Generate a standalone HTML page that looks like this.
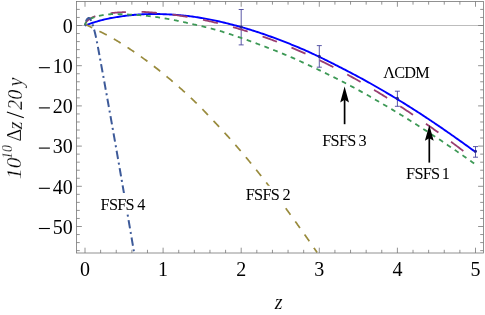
<!DOCTYPE html>
<html><head><meta charset="utf-8"><title>plot</title>
<style>html,body{margin:0;padding:0;background:#fff;}body{width:485px;height:315px;overflow:hidden;position:relative;font-family:"Liberation Serif",serif;}</style></head>
<body>
<svg width="485" height="315" viewBox="0 0 485 315" style="position:absolute;left:0;top:0">
<rect width="485" height="315" fill="#fff"/>
<defs><clipPath id="c"><rect x="76.55" y="1.45" width="406.84999999999997" height="251.55"/></clipPath></defs>
<line x1="76.55" y1="25.5" x2="483.4" y2="25.5" stroke="#bdbdbd" stroke-width="1"/>
<line x1="241.20" y1="9.5" x2="241.20" y2="44.9" stroke="#3f3d99" stroke-opacity="0.85" stroke-width="1.0"/>
<line x1="238.70" y1="9.5" x2="243.70" y2="9.5" stroke="#3f3d99" stroke-opacity="0.85" stroke-width="1"/>
<line x1="238.70" y1="44.9" x2="243.70" y2="44.9" stroke="#3f3d99" stroke-opacity="0.85" stroke-width="1"/>
<line x1="319.30" y1="45.6" x2="319.30" y2="67.2" stroke="#3f3d99" stroke-opacity="0.85" stroke-width="1.0"/>
<line x1="316.80" y1="45.6" x2="321.80" y2="45.6" stroke="#3f3d99" stroke-opacity="0.85" stroke-width="1"/>
<line x1="316.80" y1="67.2" x2="321.80" y2="67.2" stroke="#3f3d99" stroke-opacity="0.85" stroke-width="1"/>
<line x1="397.40" y1="91.2" x2="397.40" y2="106.3" stroke="#3f3d99" stroke-opacity="0.85" stroke-width="1.0"/>
<line x1="394.90" y1="91.2" x2="399.90" y2="91.2" stroke="#3f3d99" stroke-opacity="0.85" stroke-width="1"/>
<line x1="394.90" y1="106.3" x2="399.90" y2="106.3" stroke="#3f3d99" stroke-opacity="0.85" stroke-width="1"/>
<line x1="475.50" y1="146.6" x2="475.50" y2="157.2" stroke="#3f3d99" stroke-opacity="0.85" stroke-width="1.0"/>
<line x1="473.00" y1="146.6" x2="478.00" y2="146.6" stroke="#3f3d99" stroke-opacity="0.85" stroke-width="1"/>
<line x1="473.00" y1="157.2" x2="478.00" y2="157.2" stroke="#3f3d99" stroke-opacity="0.85" stroke-width="1"/>
<g clip-path="url(#c)" fill="none" stroke-linecap="butt" stroke-linejoin="round">
<path d="M85.00,25.50 L86.31,25.02 L87.61,24.54 L88.92,24.08 L90.22,23.63 L91.53,23.19 L92.84,22.76 L94.14,22.35 L95.45,21.94 L96.75,21.54 L98.06,21.16 L99.37,20.78 L100.67,20.42 L101.98,20.07 L103.28,19.74 L104.59,19.42 L105.90,19.12 L107.20,18.83 L108.51,18.56 L109.81,18.30 L111.12,18.05 L112.43,17.81 L113.73,17.58 L115.04,17.36 L116.34,17.14 L117.65,16.94 L118.96,16.74 L120.26,16.54 L121.57,16.36 L122.87,16.17 L124.18,15.99 L125.49,15.81 L126.79,15.64 L128.10,15.48 L129.40,15.33 L130.71,15.19 L132.02,15.06 L133.32,14.93 L134.63,14.81 L135.93,14.70 L137.24,14.60 L138.55,14.51 L139.85,14.42 L141.16,14.35 L142.46,14.28 L143.77,14.22 L145.08,14.16 L146.38,14.12 L147.69,14.08 L148.99,14.05 L150.30,14.03 L151.61,14.01 L152.91,14.00 L154.22,14.00 L155.53,14.01 L156.83,14.02 L158.14,14.04 L159.44,14.06 L160.75,14.10 L162.06,14.14 L163.36,14.18 L164.67,14.23 L165.97,14.28 L167.28,14.34 L168.59,14.41 L169.89,14.48 L171.20,14.55 L172.50,14.63 L173.81,14.72 L175.12,14.81 L176.42,14.91 L177.73,15.01 L179.03,15.12 L180.34,15.23 L181.65,15.35 L182.95,15.48 L184.26,15.61 L185.56,15.75 L186.87,15.89 L188.18,16.05 L189.48,16.20 L190.79,16.37 L192.09,16.54 L193.40,16.72 L194.71,16.91 L196.01,17.10 L197.32,17.30 L198.62,17.50 L199.93,17.72 L201.24,17.94 L202.54,18.16 L203.85,18.39 L205.15,18.63 L206.46,18.87 L207.77,19.11 L209.07,19.36 L210.38,19.62 L211.68,19.88 L212.99,20.15 L214.30,20.42 L215.60,20.69 L216.91,20.97 L218.21,21.26 L219.52,21.55 L220.83,21.85 L222.13,22.15 L223.44,22.45 L224.74,22.76 L226.05,23.08 L227.36,23.40 L228.66,23.72 L229.97,24.05 L231.27,24.38 L232.58,24.72 L233.89,25.06 L235.19,25.41 L236.50,25.76 L237.80,26.11 L239.11,26.48 L240.42,26.84 L241.72,27.21 L243.03,27.58 L244.33,27.96 L245.64,28.35 L246.95,28.74 L248.25,29.13 L249.56,29.53 L250.86,29.93 L252.17,30.34 L253.48,30.75 L254.78,31.17 L256.09,31.59 L257.39,32.02 L258.70,32.45 L260.01,32.88 L261.31,33.32 L262.62,33.76 L263.92,34.21 L265.23,34.66 L266.54,35.12 L267.84,35.58 L269.15,36.05 L270.45,36.51 L271.76,36.99 L273.07,37.46 L274.37,37.94 L275.68,38.43 L276.98,38.92 L278.29,39.41 L279.60,39.90 L280.90,40.40 L282.21,40.90 L283.52,41.41 L284.82,41.92 L286.13,42.43 L287.43,42.95 L288.74,43.47 L290.05,43.99 L291.35,44.52 L292.66,45.05 L293.96,45.58 L295.27,46.12 L296.58,46.66 L297.88,47.21 L299.19,47.75 L300.49,48.30 L301.80,48.86 L303.11,49.42 L304.41,49.99 L305.72,50.56 L307.02,51.14 L308.33,51.73 L309.64,52.32 L310.94,52.92 L312.25,53.52 L313.55,54.12 L314.86,54.74 L316.17,55.35 L317.47,55.98 L318.78,56.60 L320.08,57.23 L321.39,57.87 L322.70,58.51 L324.00,59.15 L325.31,59.79 L326.61,60.44 L327.92,61.09 L329.23,61.74 L330.53,62.40 L331.84,63.06 L333.14,63.71 L334.45,64.38 L335.76,65.04 L337.06,65.70 L338.37,66.37 L339.67,67.03 L340.98,67.70 L342.29,68.37 L343.59,69.04 L344.90,69.71 L346.20,70.38 L347.51,71.06 L348.82,71.73 L350.12,72.42 L351.43,73.10 L352.73,73.79 L354.04,74.48 L355.35,75.18 L356.65,75.87 L357.96,76.58 L359.26,77.28 L360.57,77.99 L361.88,78.70 L363.18,79.41 L364.49,80.13 L365.79,80.85 L367.10,81.58 L368.41,82.30 L369.71,83.03 L371.02,83.77 L372.32,84.50 L373.63,85.24 L374.94,85.99 L376.24,86.73 L377.55,87.48 L378.85,88.23 L380.16,88.99 L381.47,89.75 L382.77,90.51 L384.08,91.27 L385.38,92.04 L386.69,92.81 L388.00,93.59 L389.30,94.37 L390.61,95.15 L391.91,95.93 L393.22,96.72 L394.53,97.50 L395.83,98.30 L397.14,99.09 L398.44,99.89 L399.75,100.69 L401.06,101.50 L402.36,102.30 L403.67,103.12 L404.97,103.93 L406.28,104.75 L407.59,105.57 L408.89,106.39 L410.20,107.21 L411.51,108.04 L412.81,108.87 L414.12,109.71 L415.42,110.54 L416.73,111.39 L418.04,112.23 L419.34,113.07 L420.65,113.92 L421.95,114.78 L423.26,115.63 L424.57,116.49 L425.87,117.35 L427.18,118.21 L428.48,119.08 L429.79,119.95 L431.10,120.82 L432.40,121.70 L433.71,122.57 L435.01,123.46 L436.32,124.34 L437.63,125.23 L438.93,126.12 L440.24,127.01 L441.54,127.90 L442.85,128.80 L444.16,129.70 L445.46,130.61 L446.77,131.51 L448.07,132.42 L449.38,133.33 L450.69,134.25 L451.99,135.17 L453.30,136.08 L454.60,137.00 L455.91,137.93 L457.22,138.85 L458.52,139.77 L459.83,140.70 L461.13,141.63 L462.44,142.56 L463.75,143.50 L465.05,144.44 L466.36,145.38 L467.66,146.32 L468.97,147.27 L470.28,148.22 L471.58,149.17 L472.89,150.13 L474.19,151.10 L475.50,152.06" stroke="#0000ff" stroke-width="1.9"/>
<path d="M85.00,25.20 L85.00,25.10 L85.01,24.99 L85.01,24.88 L85.03,24.77 L85.04,24.67 L85.06,24.56 L85.08,24.45 L85.10,24.34 L85.13,24.22 L85.16,24.11 L85.19,24.00 L85.23,23.89 L85.27,23.77 L85.31,23.66 L85.35,23.54 L85.40,23.43 L85.45,23.31 L85.51,23.20 L85.57,23.08 L85.63,22.97 L85.69,22.85 L85.76,22.73 L85.83,22.62 L85.90,22.50 L85.98,22.38 L86.06,22.26 L86.14,22.15 L86.23,22.03 L86.32,21.91 L86.41,21.79 L86.51,21.67 L86.61,21.56 L86.71,21.44 L86.81,21.32 L86.92,21.20 L87.03,21.09 L87.15,20.97 L87.26,20.85 L87.39,20.73 L87.51,20.62 L87.64,20.50 L87.77,20.38 L87.90,20.27 L88.04,20.15 L88.18,20.04 L88.32,19.92 L88.46,19.81 L88.61,19.69 L88.76,19.58 L88.92,19.46 L89.08,19.35 L89.24,19.24 L89.40,19.12 L89.57,19.01 L89.74,18.90 L89.92,18.79 L90.09,18.68 L90.27,18.57 L90.46,18.46 L90.65,18.35 L90.83,18.24 L91.03,18.13 L91.22,18.03 L91.42,17.92 L91.63,17.81 L91.83,17.71 L92.04,17.60 L92.25,17.50 L92.47,17.39 L92.68,17.29 L92.90,17.19 L93.13,17.09 L93.36,16.98 L93.59,16.88 L93.82,16.78 L94.06,16.69 L94.30,16.59 L94.54,16.49 L94.79,16.39 L95.04,16.30 L95.29,16.20 L95.54,16.11 L95.80,16.02 L96.06,15.93 L96.33,15.84 L96.60,15.75 L96.87,15.67 L97.14,15.59 L97.42,15.51 L97.70,15.43 L97.99,15.35 L98.27,15.28 L98.56,15.20 L98.86,15.13 L99.15,15.06 L99.45,14.99 L99.75,14.92 L100.06,14.86 L100.37,14.80 L100.68,14.73 L101.00,14.67 L101.31,14.61 L101.64,14.55 L101.96,14.50 L102.29,14.44 L102.62,14.38 L102.95,14.33 L103.29,14.27 L103.63,14.22 L103.97,14.17 L104.32,14.11 L104.67,14.06 L105.02,14.01 L105.38,13.95 L105.74,13.90 L106.10,13.85 L106.47,13.79 L106.83,13.74 L107.21,13.68 L107.58,13.63 L107.96,13.57 L108.34,13.51 L108.72,13.45 L109.11,13.40 L109.50,13.35 L109.89,13.29 L110.29,13.24 L110.69,13.19 L111.09,13.14 L111.50,13.09 L111.91,13.04 L112.32,13.00 L112.74,12.95 L113.16,12.91 L113.58,12.86 L114.00,12.82 L114.43,12.78 L114.86,12.74 L115.30,12.70 L115.73,12.66 L116.17,12.63 L116.62,12.59 L117.07,12.56 L117.52,12.52 L117.97,12.49 L118.42,12.46 L118.88,12.43 L119.35,12.40 L119.81,12.37 L120.28,12.35 L120.75,12.32 L121.23,12.30 L121.71,12.28 L122.19,12.25 L122.67,12.23 L123.16,12.21 L123.65,12.20 L124.15,12.18 L124.64,12.16 L125.14,12.15 L125.65,12.14 L126.15,12.12 L126.66,12.11 L127.17,12.10 L127.69,12.08 L128.21,12.07 L128.73,12.05 L129.26,12.03 L129.79,12.01 L130.32,11.99 L130.85,11.98 L131.39,11.96 L131.93,11.94 L132.47,11.92 L133.02,11.90 L133.57,11.88 L134.13,11.86 L134.68,11.84 L135.24,11.83 L135.81,11.82 L136.37,11.80 L136.94,11.80 L137.51,11.79 L138.09,11.79 L138.67,11.79 L139.25,11.79 L139.83,11.80 L140.42,11.81 L141.01,11.83 L141.61,11.85 L142.20,11.87 L142.81,11.90 L143.41,11.93 L144.02,11.96 L144.63,11.99 L145.24,12.02 L145.86,12.06 L146.47,12.09 L147.10,12.13 L147.72,12.17 L148.35,12.21 L148.98,12.25 L149.62,12.29 L150.26,12.34 L150.90,12.38 L151.54,12.43 L152.19,12.48 L152.84,12.53 L153.49,12.58 L154.15,12.63 L154.81,12.69 L155.48,12.74 L156.14,12.80 L156.81,12.86 L157.48,12.92 L158.16,12.99 L158.84,13.05 L159.52,13.12 L160.21,13.18 L160.89,13.25 L161.59,13.32 L162.28,13.40 L162.98,13.47 L163.68,13.55 L164.38,13.62 L165.09,13.70 L165.80,13.79 L166.51,13.87 L167.23,13.95 L167.95,14.04 L168.67,14.13 L169.40,14.22 L170.13,14.31 L170.86,14.40 L171.60,14.50 L172.34,14.59 L173.08,14.69 L173.82,14.79 L174.57,14.90 L175.32,15.00 L176.07,15.11 L176.83,15.22 L177.59,15.33 L178.36,15.44 L179.12,15.55 L179.89,15.67 L180.67,15.79 L181.44,15.91 L182.22,16.03 L183.00,16.15 L183.79,16.28 L184.58,16.41 L185.37,16.54 L186.17,16.67 L186.96,16.81 L187.76,16.94 L188.57,17.08 L189.38,17.22 L190.19,17.36 L191.00,17.51 L191.82,17.66 L192.64,17.81 L193.46,17.96 L194.29,18.11 L195.12,18.27 L195.95,18.43 L196.79,18.59 L197.62,18.75 L198.47,18.92 L199.31,19.09 L200.16,19.26 L201.01,19.43 L201.87,19.60 L202.72,19.78 L203.58,19.96 L204.45,20.14 L205.32,20.33 L206.19,20.51 L207.06,20.70 L207.94,20.90 L208.82,21.09 L209.70,21.29 L210.58,21.49 L211.47,21.69 L212.37,21.90 L213.26,22.10 L214.16,22.31 L215.06,22.53 L215.97,22.74 L216.87,22.96 L217.79,23.18 L218.70,23.41 L219.62,23.63 L220.54,23.86 L221.46,24.09 L222.39,24.33 L223.32,24.57 L224.25,24.81 L225.19,25.05 L226.13,25.30 L227.07,25.55 L228.01,25.80 L228.96,26.05 L229.91,26.31 L230.87,26.57 L231.83,26.84 L232.79,27.11 L233.75,27.38 L234.72,27.65 L235.69,27.93 L236.66,28.21 L237.64,28.49 L238.62,28.78 L239.61,29.07 L240.59,29.36 L241.58,29.66 L242.57,29.95 L243.57,30.26 L244.57,30.56 L245.57,30.87 L246.58,31.18 L247.58,31.50 L248.59,31.82 L249.61,32.14 L250.63,32.47 L251.65,32.80 L252.67,33.13 L253.70,33.47 L254.73,33.81 L255.76,34.15 L256.80,34.50 L257.84,34.85 L258.88,35.21 L259.93,35.56 L260.98,35.93 L262.03,36.29 L263.08,36.66 L264.14,37.03 L265.20,37.41 L266.27,37.79 L267.34,38.18 L268.41,38.57 L269.48,38.96 L270.56,39.35 L271.64,39.75 L272.72,40.16 L273.81,40.57 L274.90,40.98 L275.99,41.39 L277.09,41.81 L278.19,42.24 L279.29,42.67 L280.40,43.10 L281.50,43.53 L282.62,43.97 L283.73,44.42 L284.85,44.87 L285.97,45.32 L287.09,45.78 L288.22,46.24 L289.35,46.71 L290.49,47.18 L291.62,47.65 L292.76,48.13 L293.91,48.61 L295.05,49.10 L296.20,49.59 L297.35,50.09 L298.51,50.59 L299.67,51.09 L300.83,51.60 L302.00,52.12 L303.16,52.64 L304.33,53.16 L305.51,53.69 L306.69,54.22 L307.87,54.76 L309.05,55.30 L310.24,55.85 L311.43,56.40 L312.62,56.95 L313.82,57.51 L315.02,58.08 L316.22,58.65 L317.43,59.23 L318.64,59.81 L319.85,60.39 L321.06,60.98 L322.28,61.57 L323.50,62.17 L324.73,62.78 L325.96,63.39 L327.19,64.00 L328.42,64.62 L329.66,65.25 L330.90,65.88 L332.14,66.51 L333.39,67.15 L334.64,67.80 L335.89,68.45 L337.15,69.10 L338.41,69.76 L339.67,70.43 L340.93,71.10 L342.20,71.77 L343.47,72.45 L344.75,73.14 L346.03,73.83 L347.31,74.53 L348.59,75.23 L349.88,75.94 L351.17,76.65 L352.46,77.37 L353.76,78.09 L355.06,78.82 L356.36,79.55 L357.67,80.29 L358.98,81.04 L360.29,81.79 L361.61,82.54 L362.93,83.31 L364.25,84.07 L365.57,84.85 L366.90,85.62 L368.23,86.41 L369.57,87.20 L370.90,87.99 L372.24,88.79 L373.59,89.60 L374.94,90.41 L376.29,91.22 L377.64,92.05 L379.00,92.88 L380.35,93.71 L381.72,94.55 L383.08,95.39 L384.45,96.25 L385.82,97.10 L387.20,97.96 L388.58,98.83 L389.96,99.71 L391.34,100.58 L392.73,101.47 L394.12,102.36 L395.52,103.26 L396.91,104.16 L398.31,105.07 L399.72,105.98 L401.12,106.90 L402.53,107.83 L403.95,108.76 L405.36,109.70 L406.78,110.64 L408.20,111.59 L409.63,112.54 L411.06,113.50 L412.49,114.47 L413.92,115.44 L415.36,116.42 L416.80,117.40 L418.25,118.39 L419.69,119.39 L421.14,120.39 L422.60,121.39 L424.06,122.41 L425.51,123.42 L426.98,124.45 L428.44,125.48 L429.91,126.51 L431.39,127.56 L432.86,128.60 L434.34,129.66 L435.82,130.72 L437.31,131.78 L438.79,132.85 L440.29,133.93 L441.78,135.01 L443.28,136.10 L444.78,137.19 L446.28,138.29 L447.79,139.40 L449.30,140.51 L450.81,141.62 L452.33,142.75 L453.85,143.88 L455.37,145.01 L456.90,146.15 L458.43,147.29 L459.96,148.44 L461.49,149.60 L463.03,150.76 L464.57,151.93 L466.12,153.10 L467.66,154.28 L469.22,155.47 L470.77,156.66 L472.33,157.85 L473.89,159.05 L475.45,160.26" stroke="#993d71" stroke-width="1.8" stroke-dasharray="15.3 15.67" stroke-dashoffset="0.9"/>
<path d="M85.32,24.29 L86.07,24.65 L86.82,25.02 L87.57,25.39 L88.31,25.76 L89.06,26.14 L89.80,26.51 L90.55,26.89 L91.29,27.26 L92.03,27.64 L92.77,28.02 L93.50,28.39 L94.24,28.77 L94.98,29.13 L95.71,29.50 L96.45,29.86 L97.18,30.22 L97.91,30.58 L98.64,30.94 L99.37,31.29 L100.10,31.65 L100.83,32.00 L101.56,32.35 L102.28,32.71 L103.01,33.06 L103.73,33.42 L104.45,33.78 L105.17,34.14 L105.89,34.51 L106.61,34.87 L107.33,35.25 L108.05,35.62 L108.77,36.00 L109.48,36.39 L110.20,36.78 L110.91,37.18 L111.62,37.58 L112.33,37.99 L113.04,38.40 L113.75,38.82 L114.46,39.25 L115.17,39.67 L115.87,40.10 L116.58,40.53 L117.28,40.96 L117.98,41.40 L118.69,41.83 L119.39,42.27 L120.09,42.70 L120.79,43.14 L121.48,43.58 L122.18,44.02 L122.88,44.46 L123.57,44.91 L124.27,45.35 L124.96,45.80 L125.65,46.25 L126.34,46.70 L127.03,47.15 L127.72,47.60 L128.41,48.05 L129.10,48.51 L129.78,48.96 L130.47,49.42 L131.15,49.88 L131.83,50.34 L132.52,50.80 L133.20,51.26 L133.88,51.73 L134.56,52.19 L135.23,52.66 L135.91,53.13 L136.59,53.60 L137.26,54.07 L137.94,54.54 L138.61,55.01 L139.28,55.49 L139.96,55.96 L140.63,56.44 L141.30,56.92 L141.97,57.40 L142.63,57.88 L143.30,58.36 L143.97,58.84 L144.63,59.33 L145.29,59.81 L145.96,60.30 L146.62,60.79 L147.28,61.28 L147.94,61.77 L148.60,62.26 L149.26,62.75 L149.92,63.25 L150.57,63.74 L151.23,64.24 L151.88,64.74 L152.54,65.24 L153.19,65.74 L153.84,66.24 L154.49,66.74 L155.14,67.25 L155.79,67.75 L156.44,68.26 L157.09,68.76 L157.74,69.27 L158.38,69.78 L159.03,70.29 L159.67,70.81 L160.31,71.32 L160.96,71.83 L161.60,72.35 L162.24,72.86 L162.88,73.38 L163.52,73.90 L164.15,74.42 L164.79,74.94 L165.43,75.46 L166.06,75.99 L166.70,76.51 L167.33,77.04 L167.96,77.56 L168.59,78.09 L169.22,78.62 L169.85,79.15 L170.48,79.68 L171.11,80.21 L171.74,80.75 L172.36,81.28 L172.99,81.82 L173.62,82.35 L174.24,82.89 L174.86,83.43 L175.48,83.97 L176.11,84.51 L176.73,85.05 L177.35,85.59 L177.96,86.14 L178.58,86.68 L179.20,87.23 L179.82,87.77 L180.43,88.32 L181.05,88.87 L181.66,89.42 L182.27,89.97 L182.88,90.52 L183.50,91.08 L184.11,91.63 L184.72,92.18 L185.32,92.74 L185.93,93.30 L186.54,93.85 L187.15,94.41 L187.75,94.97 L188.36,95.53 L188.96,96.10 L189.56,96.66 L190.17,97.22 L190.77,97.79 L191.37,98.35 L191.97,98.92 L192.57,99.48 L193.17,100.05 L193.76,100.62 L194.36,101.19 L194.96,101.76 L195.55,102.33 L196.15,102.91 L196.74,103.49 L197.33,104.07 L197.92,104.66 L198.52,105.24 L199.11,105.83 L199.70,106.43 L200.28,107.02 L200.87,107.62 L201.46,108.22 L202.05,108.82 L202.63,109.42 L203.22,110.03 L203.80,110.64 L204.39,111.24 L204.97,111.85 L205.55,112.46 L206.13,113.07 L206.71,113.68 L207.29,114.29 L207.87,114.90 L208.45,115.51 L209.03,116.12 L209.60,116.73 L210.18,117.34 L210.76,117.95 L211.33,118.56 L211.90,119.17 L212.48,119.77 L213.05,120.38 L213.62,120.98 L214.19,121.58 L214.76,122.19 L215.33,122.79 L215.90,123.39 L216.47,123.99 L217.04,124.59 L217.60,125.19 L218.17,125.80 L218.73,126.40 L219.30,127.01 L219.86,127.61 L220.43,128.22 L220.99,128.83 L221.55,129.44 L222.11,130.05 L222.67,130.66 L223.23,131.27 L223.79,131.88 L224.35,132.49 L224.91,133.10 L225.46,133.72 L226.02,134.33 L226.57,134.94 L227.13,135.56 L227.68,136.18 L228.24,136.79 L228.79,137.41 L229.34,138.03 L229.89,138.65 L230.44,139.27 L230.99,139.89 L231.54,140.51 L232.09,141.13 L232.64,141.75 L233.19,142.37 L233.73,143.00 L234.28,143.62 L234.82,144.24 L235.37,144.87 L235.91,145.50 L236.46,146.12 L237.00,146.75 L237.54,147.38 L238.08,148.00 L238.62,148.63 L239.16,149.26 L239.70,149.89 L240.24,150.52 L240.78,151.15 L241.32,151.78 L241.85,152.42 L242.39,153.05 L242.93,153.68 L243.46,154.32 L243.99,154.95 L244.53,155.59 L245.06,156.22 L245.59,156.86 L246.13,157.49 L246.66,158.13 L247.19,158.77 L247.72,159.41 L248.25,160.05 L248.78,160.68 L249.30,161.32 L249.83,161.96 L250.36,162.60 L250.89,163.25 L251.41,163.89 L251.94,164.53 L252.46,165.17 L252.99,165.82 L253.51,166.46 L254.03,167.10 L254.55,167.75 L255.08,168.39 L255.60,169.04 L256.12,169.68 L256.64,170.33 L257.16,170.98 L257.68,171.62 L258.19,172.27 L258.71,172.92 L259.23,173.57 L259.74,174.22 L260.26,174.87 L260.78,175.52 L261.29,176.17 L261.80,176.82 L262.32,177.47 L262.83,178.12 L263.34,178.77 L263.86,179.42 L264.37,180.08 L264.88,180.73 L265.39,181.38 L265.90,182.04 L266.41,182.69 L266.92,183.34 L267.42,184.00 L267.93,184.65 L268.44,185.31 L268.94,185.97 L269.45,186.62 L269.96,187.28 L270.46,187.93 L270.96,188.59 L271.47,189.25 L271.97,189.91 L272.47,190.57 L272.98,191.22 L273.48,191.88 L273.98,192.54 L274.48,193.20 L274.98,193.86 L275.48,194.52 L275.98,195.18 L276.48,195.84 L276.98,196.50 L277.47,197.16 L277.97,197.83 L278.47,198.49 L278.96,199.15 L279.46,199.81 L279.95,200.47 L280.45,201.14 L280.94,201.80 L281.44,202.46 L281.93,203.13 L282.42,203.79 L282.91,204.45 L283.40,205.12 L283.90,205.78 L284.39,206.45 L284.88,207.11 L285.37,207.78 L285.86,208.44 L286.34,209.11 L286.83,209.77 L287.32,210.44 L287.81,211.10 L288.29,211.77 L288.78,212.44 L289.27,213.10 L289.75,213.77 L290.24,214.44 L290.72,215.10 L291.21,215.77 L291.69,216.44 L292.17,217.11 L292.66,217.77 L293.14,218.44 L293.62,219.11 L294.10,219.78 L294.58,220.44 L295.06,221.11 L295.54,221.78 L296.02,222.45 L296.50,223.12 L296.98,223.79 L297.46,224.46 L297.94,225.13 L298.41,225.79 L298.89,226.46 L299.37,227.13 L299.84,227.80 L300.32,228.47 L300.80,229.14 L301.27,229.81 L301.75,230.48 L302.22,231.15 L302.69,231.82 L303.17,232.49 L303.64,233.16 L304.11,233.83 L304.58,234.50 L305.06,235.17 L305.53,235.84 L306.00,236.51 L306.47,237.18 L306.94,237.85 L307.41,238.52 L307.88,239.19 L308.35,239.86 L308.82,240.53 L309.28,241.20 L309.75,241.87 L310.22,242.54 L310.69,243.21 L311.15,243.88 L311.62,244.55 L312.08,245.22 L312.55,245.89 L313.02,246.56 L313.48,247.23 L313.94,247.90 L314.41,248.57 L314.87,249.24 L315.34,249.91 L315.80,250.58 L316.26,251.25 L316.72,251.92 L317.19,252.59" stroke="#998b3d" stroke-width="1.7" stroke-dasharray="8.1 8.1" stroke-dashoffset="0.4"/>
<path d="M85.00,25.20 L85.00,25.09 L85.01,24.97 L85.01,24.86 L85.03,24.75 L85.04,24.64 L85.06,24.52 L85.08,24.41 L85.10,24.30 L85.13,24.19 L85.16,24.07 L85.19,23.96 L85.23,23.85 L85.27,23.73 L85.31,23.62 L85.35,23.51 L85.40,23.40 L85.45,23.29 L85.51,23.17 L85.57,23.06 L85.63,22.95 L85.69,22.84 L85.76,22.73 L85.83,22.62 L85.90,22.51 L85.98,22.40 L86.06,22.29 L86.14,22.18 L86.23,22.07 L86.32,21.96 L86.41,21.85 L86.51,21.74 L86.61,21.63 L86.71,21.52 L86.81,21.41 L86.92,21.31 L87.03,21.20 L87.15,21.09 L87.26,20.99 L87.39,20.88 L87.51,20.77 L87.64,20.67 L87.77,20.56 L87.90,20.46 L88.04,20.36 L88.18,20.25 L88.32,20.15 L88.46,20.05 L88.61,19.94 L88.76,19.84 L88.92,19.74 L89.08,19.64 L89.24,19.54 L89.40,19.44 L89.57,19.34 L89.74,19.24 L89.92,19.14 L90.09,19.05 L90.27,18.95 L90.46,18.85 L90.65,18.76 L90.83,18.66 L91.03,18.57 L91.22,18.47 L91.42,18.38 L91.63,18.29 L91.83,18.20 L92.04,18.10 L92.25,18.01 L92.47,17.92 L92.68,17.83 L92.90,17.75 L93.13,17.66 L93.36,17.57 L93.59,17.48 L93.82,17.40 L94.06,17.31 L94.30,17.23 L94.54,17.15 L94.79,17.06 L95.04,16.98 L95.29,16.90 L95.54,16.82 L95.80,16.74 L96.06,16.66 L96.33,16.58 L96.60,16.50 L96.87,16.43 L97.14,16.35 L97.42,16.28 L97.70,16.20 L97.99,16.13 L98.27,16.06 L98.56,15.99 L98.86,15.92 L99.15,15.85 L99.45,15.78 L99.75,15.71 L100.06,15.64 L100.37,15.58 L100.68,15.51 L101.00,15.45 L101.31,15.39 L101.64,15.32 L101.96,15.26 L102.29,15.20 L102.62,15.14 L102.95,15.09 L103.29,15.03 L103.63,14.97 L103.97,14.92 L104.32,14.86 L104.67,14.81 L105.02,14.76 L105.38,14.71 L105.74,14.66 L106.10,14.61 L106.47,14.57 L106.83,14.53 L107.21,14.49 L107.58,14.45 L107.96,14.41 L108.34,14.38 L108.72,14.35 L109.11,14.32 L109.50,14.29 L109.89,14.27 L110.29,14.25 L110.69,14.23 L111.09,14.21 L111.50,14.19 L111.91,14.18 L112.32,14.16 L112.74,14.15 L113.16,14.15 L113.58,14.14 L114.00,14.14 L114.43,14.13 L114.86,14.13 L115.30,14.14 L115.73,14.14 L116.17,14.14 L116.62,14.15 L117.07,14.16 L117.52,14.17 L117.97,14.18 L118.42,14.19 L118.88,14.20 L119.35,14.21 L119.81,14.23 L120.28,14.24 L120.75,14.26 L121.23,14.27 L121.71,14.29 L122.19,14.31 L122.67,14.33 L123.16,14.34 L123.65,14.36 L124.15,14.38 L124.64,14.40 L125.14,14.41 L125.65,14.43 L126.15,14.45 L126.66,14.46 L127.17,14.48 L127.69,14.50 L128.21,14.51 L128.73,14.53 L129.26,14.55 L129.79,14.57 L130.32,14.59 L130.85,14.61 L131.39,14.63 L131.93,14.66 L132.47,14.69 L133.02,14.71 L133.57,14.74 L134.13,14.78 L134.68,14.81 L135.24,14.84 L135.81,14.88 L136.37,14.92 L136.94,14.96 L137.51,15.00 L138.09,15.04 L138.67,15.09 L139.25,15.13 L139.83,15.18 L140.42,15.23 L141.01,15.28 L141.61,15.34 L142.20,15.39 L142.81,15.45 L143.41,15.51 L144.02,15.57 L144.63,15.63 L145.24,15.69 L145.86,15.75 L146.47,15.82 L147.10,15.89 L147.72,15.96 L148.35,16.03 L148.98,16.11 L149.62,16.18 L150.26,16.26 L150.90,16.34 L151.54,16.42 L152.19,16.50 L152.84,16.59 L153.49,16.67 L154.15,16.76 L154.81,16.85 L155.48,16.94 L156.14,17.04 L156.81,17.13 L157.48,17.23 L158.16,17.33 L158.84,17.43 L159.52,17.54 L160.21,17.64 L160.89,17.75 L161.59,17.86 L162.28,17.97 L162.98,18.09 L163.68,18.20 L164.38,18.32 L165.09,18.44 L165.80,18.56 L166.51,18.68 L167.23,18.81 L167.95,18.94 L168.67,19.07 L169.40,19.20 L170.13,19.33 L170.86,19.47 L171.60,19.61 L172.34,19.75 L173.08,19.89 L173.82,20.03 L174.57,20.18 L175.32,20.33 L176.07,20.48 L176.83,20.63 L177.59,20.79 L178.36,20.95 L179.12,21.11 L179.89,21.27 L180.67,21.43 L181.44,21.60 L182.22,21.77 L183.00,21.94 L183.79,22.11 L184.58,22.29 L185.37,22.47 L186.17,22.65 L186.96,22.83 L187.76,23.01 L188.57,23.20 L189.38,23.39 L190.19,23.58 L191.00,23.77 L191.82,23.96 L192.64,24.15 L193.46,24.34 L194.29,24.53 L195.12,24.72 L195.95,24.91 L196.79,25.10 L197.62,25.29 L198.47,25.48 L199.31,25.67 L200.16,25.86 L201.01,26.06 L201.87,26.25 L202.72,26.45 L203.58,26.64 L204.45,26.84 L205.32,27.04 L206.19,27.25 L207.06,27.46 L207.94,27.67 L208.82,27.89 L209.70,28.11 L210.58,28.33 L211.47,28.56 L212.37,28.79 L213.26,29.04 L214.16,29.28 L215.06,29.53 L215.97,29.79 L216.87,30.05 L217.79,30.32 L218.70,30.60 L219.62,30.88 L220.54,31.16 L221.46,31.44 L222.39,31.73 L223.32,32.02 L224.25,32.31 L225.19,32.61 L226.13,32.90 L227.07,33.21 L228.01,33.51 L228.96,33.82 L229.91,34.12 L230.87,34.44 L231.83,34.75 L232.79,35.07 L233.75,35.39 L234.72,35.71 L235.69,36.04 L236.66,36.37 L237.64,36.70 L238.62,37.04 L239.61,37.38 L240.59,37.72 L241.58,38.06 L242.57,38.41 L243.57,38.76 L244.57,39.12 L245.57,39.47 L246.58,39.83 L247.58,40.20 L248.59,40.56 L249.61,40.93 L250.63,41.30 L251.65,41.68 L252.67,42.05 L253.70,42.43 L254.73,42.81 L255.76,43.20 L256.80,43.58 L257.84,43.97 L258.88,44.36 L259.93,44.75 L260.98,45.15 L262.03,45.54 L263.08,45.94 L264.14,46.34 L265.20,46.75 L266.27,47.15 L267.34,47.56 L268.41,47.98 L269.48,48.39 L270.56,48.81 L271.64,49.23 L272.72,49.66 L273.81,50.08 L274.90,50.51 L275.99,50.95 L277.09,51.39 L278.19,51.83 L279.29,52.27 L280.40,52.72 L281.50,53.17 L282.62,53.63 L283.73,54.09 L284.85,54.55 L285.97,55.02 L287.09,55.50 L288.22,55.97 L289.35,56.46 L290.49,56.94 L291.62,57.43 L292.76,57.93 L293.91,58.43 L295.05,58.94 L296.20,59.45 L297.35,59.96 L298.51,60.48 L299.67,61.01 L300.83,61.54 L302.00,62.07 L303.16,62.61 L304.33,63.15 L305.51,63.69 L306.69,64.23 L307.87,64.78 L309.05,65.33 L310.24,65.88 L311.43,66.44 L312.62,67.00 L313.82,67.56 L315.02,68.12 L316.22,68.69 L317.43,69.26 L318.64,69.84 L319.85,70.42 L321.06,71.00 L322.28,71.58 L323.50,72.17 L324.73,72.77 L325.96,73.36 L327.19,73.96 L328.42,74.57 L329.66,75.17 L330.90,75.78 L332.14,76.40 L333.39,77.02 L334.64,77.64 L335.89,78.27 L337.15,78.91 L338.41,79.54 L339.67,80.18 L340.93,80.83 L342.20,81.48 L343.47,82.14 L344.75,82.80 L346.03,83.47 L347.31,84.14 L348.59,84.81 L349.88,85.49 L351.17,86.18 L352.46,86.87 L353.76,87.57 L355.06,88.27 L356.36,88.98 L357.67,89.69 L358.98,90.41 L360.29,91.14 L361.61,91.87 L362.93,92.60 L364.25,93.34 L365.57,94.08 L366.90,94.83 L368.23,95.58 L369.57,96.34 L370.90,97.10 L372.24,97.86 L373.59,98.63 L374.94,99.41 L376.29,100.18 L377.64,100.97 L379.00,101.75 L380.35,102.55 L381.72,103.34 L383.08,104.14 L384.45,104.95 L385.82,105.76 L387.20,106.57 L388.58,107.39 L389.96,108.22 L391.34,109.05 L392.73,109.88 L394.12,110.72 L395.52,111.56 L396.91,112.41 L398.31,113.26 L399.72,114.12 L401.12,114.98 L402.53,115.85 L403.95,116.72 L405.36,117.60 L406.78,118.48 L408.20,119.36 L409.63,120.25 L411.06,121.15 L412.49,122.05 L413.92,122.96 L415.36,123.87 L416.80,124.78 L418.25,125.70 L419.69,126.62 L421.14,127.55 L422.60,128.49 L424.06,129.43 L425.51,130.37 L426.98,131.32 L428.44,132.28 L429.91,133.24 L431.39,134.20 L432.86,135.17 L434.34,136.14 L435.82,137.12 L437.31,138.11 L438.79,139.10 L440.29,140.09 L441.78,141.09 L443.28,142.10 L444.78,143.11 L446.28,144.12 L447.79,145.14 L449.30,146.17 L450.81,147.20 L452.33,148.23 L453.85,149.27 L455.37,150.32 L456.90,151.37 L458.43,152.43 L459.96,153.49 L461.49,154.56 L463.03,155.63 L464.57,156.70 L466.12,157.79 L467.66,158.87 L469.22,159.97 L470.77,161.06 L472.33,162.17 L473.89,163.28 L475.45,164.39" stroke="#3d9956" stroke-width="1.8" stroke-dasharray="4.8 4.64" stroke-dashoffset="1.1"/>
<path d="M85.02,25.31 L85.03,24.75 L85.10,24.12 L85.23,23.44 L85.41,22.73 L85.63,22.02 L85.90,21.30 L86.21,20.62 L86.56,19.97 L86.93,19.39 L87.34,18.88 L87.77,18.47 L88.22,18.18 L88.68,18.02 L89.11,18.01 L89.49,18.15 L89.84,18.44 L90.15,18.83 L90.43,19.31 L90.69,19.85 L90.94,20.41 L91.18,20.99 L91.41,21.57 L91.64,22.15 L91.86,22.73 L92.08,23.31 L92.30,23.90 L92.51,24.48 L92.71,25.07 L92.91,25.66 L93.10,26.25 L93.29,26.84 L93.48,27.44 L93.66,28.03 L93.84,28.63 L94.01,29.23 L94.18,29.82 L94.34,30.43 L94.51,31.03 L94.66,31.63 L94.82,32.23 L94.97,32.84 L95.12,33.44 L95.27,34.05 L95.41,34.66 L95.55,35.27 L95.69,35.88 L95.83,36.49 L95.96,37.10 L96.09,37.71 L96.22,38.32 L96.35,38.94 L96.47,39.55 L96.60,40.16 L96.72,40.78 L96.84,41.39 L96.96,42.01 L97.08,42.62 L97.20,43.24 L97.32,43.86 L97.43,44.47 L97.55,45.09 L97.66,45.70 L97.78,46.32 L97.89,46.94 L98.01,47.55 L98.12,48.17 L98.24,48.79 L98.35,49.40 L98.47,50.02 L98.58,50.64 L98.70,51.25 L98.81,51.87 L98.92,52.49 L99.04,53.10 L99.15,53.72 L99.27,54.34 L99.38,54.95 L99.50,55.57 L99.61,56.19 L99.72,56.80 L99.84,57.42 L99.95,58.04 L100.07,58.65 L100.18,59.27 L100.29,59.88 L100.41,60.50 L100.52,61.12 L100.63,61.73 L100.75,62.35 L100.86,62.97 L100.98,63.58 L101.09,64.20 L101.20,64.81 L101.32,65.43 L101.43,66.05 L101.54,66.66 L101.66,67.28 L101.77,67.89 L101.88,68.51 L101.99,69.13 L102.11,69.74 L102.22,70.36 L102.33,70.97 L102.45,71.59 L102.56,72.21 L102.67,72.82 L102.78,73.44 L102.90,74.05 L103.01,74.67 L103.12,75.29 L103.23,75.90 L103.35,76.52 L103.46,77.13 L103.57,77.75 L103.68,78.36 L103.80,78.98 L103.91,79.60 L104.02,80.21 L104.13,80.83 L104.24,81.44 L104.36,82.06 L104.47,82.67 L104.58,83.29 L104.69,83.91 L104.80,84.52 L104.92,85.14 L105.03,85.75 L105.14,86.37 L105.25,86.98 L105.36,87.60 L105.47,88.21 L105.58,88.83 L105.70,89.45 L105.81,90.06 L105.92,90.68 L106.03,91.29 L106.14,91.91 L106.25,92.52 L106.36,93.14 L106.48,93.75 L106.59,94.37 L106.70,94.99 L106.81,95.60 L106.92,96.22 L107.03,96.83 L107.14,97.45 L107.25,98.06 L107.36,98.68 L107.47,99.29 L107.58,99.91 L107.69,100.52 L107.81,101.14 L107.92,101.75 L108.03,102.37 L108.14,102.98 L108.25,103.60 L108.36,104.22 L108.47,104.83 L108.58,105.45 L108.69,106.06 L108.80,106.68 L108.91,107.29 L109.02,107.91 L109.13,108.52 L109.24,109.14 L109.35,109.75 L109.46,110.37 L109.57,110.98 L109.68,111.60 L109.79,112.21 L109.90,112.83 L110.01,113.44 L110.12,114.06 L110.23,114.67 L110.34,115.29 L110.45,115.90 L110.56,116.52 L110.67,117.13 L110.78,117.75 L110.88,118.37 L110.99,118.98 L111.10,119.60 L111.21,120.21 L111.32,120.83 L111.43,121.44 L111.54,122.06 L111.65,122.67 L111.76,123.29 L111.87,123.90 L111.98,124.52 L112.09,125.13 L112.20,125.75 L112.30,126.36 L112.41,126.98 L112.52,127.59 L112.63,128.21 L112.74,128.82 L112.85,129.44 L112.96,130.05 L113.07,130.67 L113.17,131.28 L113.28,131.90 L113.39,132.51 L113.50,133.13 L113.61,133.74 L113.72,134.36 L113.83,134.97 L113.93,135.59 L114.04,136.20 L114.15,136.82 L114.26,137.43 L114.37,138.05 L114.48,138.66 L114.58,139.28 L114.69,139.89 L114.80,140.51 L114.91,141.12 L115.02,141.74 L115.13,142.35 L115.23,142.97 L115.34,143.58 L115.45,144.20 L115.56,144.81 L115.67,145.43 L115.77,146.04 L115.88,146.66 L115.99,147.27 L116.10,147.89 L116.20,148.50 L116.31,149.12 L116.42,149.73 L116.53,150.35 L116.63,150.96 L116.74,151.58 L116.85,152.19 L116.96,152.81 L117.07,153.42 L117.17,154.04 L117.28,154.65 L117.39,155.27 L117.50,155.88 L117.60,156.50 L117.71,157.11 L117.82,157.73 L117.92,158.34 L118.03,158.96 L118.14,159.57 L118.25,160.19 L118.35,160.81 L118.46,161.42 L118.57,162.04 L118.67,162.65 L118.78,163.27 L118.89,163.88 L119.00,164.50 L119.10,165.11 L119.21,165.73 L119.32,166.34 L119.42,166.96 L119.53,167.57 L119.64,168.19 L119.74,168.80 L119.85,169.42 L119.96,170.03 L120.06,170.65 L120.17,171.26 L120.28,171.88 L120.38,172.49 L120.49,173.11 L120.60,173.72 L120.70,174.34 L120.81,174.95 L120.92,175.57 L121.02,176.19 L121.13,176.80 L121.24,177.42 L121.34,178.03 L121.45,178.65 L121.56,179.26 L121.66,179.88 L121.77,180.49 L121.88,181.11 L121.98,181.72 L122.09,182.34 L122.19,182.95 L122.30,183.57 L122.41,184.18 L122.51,184.80 L122.62,185.42 L122.73,186.03 L122.83,186.65 L122.94,187.26 L123.04,187.88 L123.15,188.49 L123.26,189.11 L123.36,189.72 L123.47,190.34 L123.57,190.96 L123.68,191.57 L123.79,192.19 L123.89,192.80 L124.00,193.42 L124.10,194.03 L124.21,194.65 L124.32,195.26 L124.42,195.88 L124.53,196.50 L124.63,197.11 L124.74,197.73 L124.84,198.34 L124.95,198.96 L125.06,199.57 L125.16,200.19 L125.27,200.81 L125.37,201.42 L125.48,202.04 L125.58,202.65 L125.69,203.27 L125.80,203.88 L125.90,204.50 L126.01,205.12 L126.11,205.73 L126.22,206.35 L126.32,206.96 L126.43,207.58 L126.53,208.20 L126.64,208.81 L126.75,209.43 L126.85,210.04 L126.96,210.66 L127.06,211.28 L127.17,211.89 L127.27,212.51 L127.38,213.12 L127.48,213.74 L127.59,214.36 L127.69,214.97 L127.80,215.59 L127.90,216.20 L128.01,216.82 L128.11,217.44 L128.22,218.05 L128.33,218.67 L128.43,219.29 L128.54,219.90 L128.64,220.52 L128.75,221.13 L128.85,221.75 L128.96,222.37 L129.06,222.98 L129.17,223.60 L129.27,224.22 L129.38,224.83 L129.48,225.45 L129.59,226.07 L129.69,226.68 L129.80,227.30 L129.90,227.92 L130.01,228.53 L130.11,229.15 L130.22,229.76 L130.32,230.38 L130.43,231.00 L130.53,231.61 L130.64,232.23 L130.74,232.85 L130.85,233.46 L130.95,234.08 L131.06,234.70 L131.16,235.32 L131.27,235.93 L131.37,236.55 L131.48,237.17 L131.58,237.78 L131.69,238.40 L131.79,239.02 L131.90,239.63 L132.00,240.25 L132.11,240.87 L132.21,241.48 L132.32,242.10 L132.42,242.72 L132.53,243.34 L132.63,243.95 L132.74,244.57 L132.84,245.19 L132.94,245.80 L133.05,246.42 L133.15,247.04 L133.26,247.66 L133.36,248.27 L133.47,248.89 L133.57,249.51 L133.68,250.12 L133.78,250.74 L133.89,251.36 L133.99,251.98 L134.10,252.59 L134.20,253.21" stroke="#3d5a99" stroke-width="2" stroke-dasharray="8.4 3.6 2.0 3.6" stroke-dashoffset="13.3"/>
</g>
<circle cx="241.20" cy="26.96" r="1.5" fill="#23238f"/>
<circle cx="319.30" cy="56.32" r="1.5" fill="#23238f"/>
<circle cx="397.40" cy="98.35" r="1.5" fill="#23238f"/>
<circle cx="475.50" cy="151.26" r="1.5" fill="#23238f"/>
<rect x="76.55" y="1.45" width="406.84999999999997" height="251.55" fill="none" stroke="#777" stroke-width="0.8"/>
<path d="M85.00,253.0v-5.3M85.00,1.45v5.3M100.62,253.0v-3.2M100.62,1.45v3.2M116.24,253.0v-3.2M116.24,1.45v3.2M131.86,253.0v-3.2M131.86,1.45v3.2M147.48,253.0v-3.2M147.48,1.45v3.2M163.10,253.0v-5.3M163.10,1.45v5.3M178.72,253.0v-3.2M178.72,1.45v3.2M194.34,253.0v-3.2M194.34,1.45v3.2M209.96,253.0v-3.2M209.96,1.45v3.2M225.58,253.0v-3.2M225.58,1.45v3.2M241.20,253.0v-5.3M241.20,1.45v5.3M256.82,253.0v-3.2M256.82,1.45v3.2M272.44,253.0v-3.2M272.44,1.45v3.2M288.06,253.0v-3.2M288.06,1.45v3.2M303.68,253.0v-3.2M303.68,1.45v3.2M319.30,253.0v-5.3M319.30,1.45v5.3M334.92,253.0v-3.2M334.92,1.45v3.2M350.54,253.0v-3.2M350.54,1.45v3.2M366.16,253.0v-3.2M366.16,1.45v3.2M381.78,253.0v-3.2M381.78,1.45v3.2M397.40,253.0v-5.3M397.40,1.45v5.3M413.02,253.0v-3.2M413.02,1.45v3.2M428.64,253.0v-3.2M428.64,1.45v3.2M444.26,253.0v-3.2M444.26,1.45v3.2M459.88,253.0v-3.2M459.88,1.45v3.2M475.50,253.0v-5.3M475.50,1.45v5.3M76.55,250.62h3.2M483.4,250.62h-3.2M76.55,242.58h3.2M483.4,242.58h-3.2M76.55,234.54h3.2M483.4,234.54h-3.2M76.55,226.50h5.3M483.4,226.50h-5.3M76.55,218.46h3.2M483.4,218.46h-3.2M76.55,210.42h3.2M483.4,210.42h-3.2M76.55,202.38h3.2M483.4,202.38h-3.2M76.55,194.34h3.2M483.4,194.34h-3.2M76.55,186.30h5.3M483.4,186.30h-5.3M76.55,178.26h3.2M483.4,178.26h-3.2M76.55,170.22h3.2M483.4,170.22h-3.2M76.55,162.18h3.2M483.4,162.18h-3.2M76.55,154.14h3.2M483.4,154.14h-3.2M76.55,146.10h5.3M483.4,146.10h-5.3M76.55,138.06h3.2M483.4,138.06h-3.2M76.55,130.02h3.2M483.4,130.02h-3.2M76.55,121.98h3.2M483.4,121.98h-3.2M76.55,113.94h3.2M483.4,113.94h-3.2M76.55,105.90h5.3M483.4,105.90h-5.3M76.55,97.86h3.2M483.4,97.86h-3.2M76.55,89.82h3.2M483.4,89.82h-3.2M76.55,81.78h3.2M483.4,81.78h-3.2M76.55,73.74h3.2M483.4,73.74h-3.2M76.55,65.70h5.3M483.4,65.70h-5.3M76.55,57.66h3.2M483.4,57.66h-3.2M76.55,49.62h3.2M483.4,49.62h-3.2M76.55,41.58h3.2M483.4,41.58h-3.2M76.55,33.54h3.2M483.4,33.54h-3.2M76.55,25.50h5.3M483.4,25.50h-5.3M76.55,17.46h3.2M483.4,17.46h-3.2M76.55,9.42h3.2M483.4,9.42h-3.2" stroke="#777" stroke-width="0.8" fill="none"/>
<g font-family="Liberation Serif, serif" font-size="20" fill="#000" style="filter:grayscale(1)">
<text x="85.00" y="276.2" text-anchor="middle">0</text>
<text x="163.10" y="276.2" text-anchor="middle">1</text>
<text x="241.20" y="276.2" text-anchor="middle">2</text>
<text x="319.30" y="276.2" text-anchor="middle">3</text>
<text x="397.40" y="276.2" text-anchor="middle">4</text>
<text x="475.50" y="276.2" text-anchor="middle">5</text>
<text x="72.8" y="32.80" text-anchor="end">0</text>
<text x="72.8" y="73.00" text-anchor="end">10</text>
<rect x="38.9" y="67.15" width="11" height="1.1" fill="#000"/>
<text x="72.8" y="113.20" text-anchor="end">20</text>
<rect x="38.9" y="107.35" width="11" height="1.1" fill="#000"/>
<text x="72.8" y="153.40" text-anchor="end">30</text>
<rect x="38.9" y="147.55" width="11" height="1.1" fill="#000"/>
<text x="72.8" y="193.60" text-anchor="end">40</text>
<rect x="38.9" y="187.75" width="11" height="1.1" fill="#000"/>
<text x="72.8" y="233.80" text-anchor="end">50</text>
<rect x="38.9" y="227.95" width="11" height="1.1" fill="#000"/>
</g>
<text x="278.6" y="308.6" font-family="Liberation Serif, serif" font-style="italic" font-size="20" text-anchor="middle" style="filter:grayscale(1)" stroke="#fff" stroke-width="0.12">z</text>
<g transform="translate(21.1,180.0) rotate(-90)" font-family="Liberation Serif, serif" style="filter:grayscale(1)" stroke="#fff" stroke-width="0.22">
<text x="1.0" y="0" font-size="21.5" font-style="italic">10</text>
<text x="21.0" y="-9.4" font-size="14" font-style="italic">10</text>
<text x="38.5" y="0" font-size="20">Δ</text>
<text x="50.8" y="1.0" font-size="20" font-style="italic">z</text>
<text x="70.2" y="0.6" font-size="20" font-style="italic">20</text>
<text x="93.6" y="0.6" font-size="20" font-style="italic">y</text>
</g>
<line x1="6.9" y1="112" x2="23.8" y2="117.8" stroke="#000" stroke-width="1.1"/>
<g font-family="Liberation Serif, serif" font-size="16.3" fill="#000" letter-spacing="-0.75" style="filter:grayscale(1)">
<rect x="100" y="193" width="46" height="20" fill="#fff"/>
<rect x="245" y="185.8" width="47" height="20" fill="#fff"/>
<text x="383.2" y="77.8" letter-spacing="-0.75">ΛCDM</text>
<text x="322.3" y="146.2">FSFS<tspan x="358.6">3</tspan></text>
<text x="406.1" y="178.5">FSFS<tspan x="441.8">1</tspan></text>
<text x="245.8" y="200">FSFS<tspan x="282.5">2</tspan></text>
<text x="100.6" y="209.6">FSFS<tspan x="137.2">4</tspan></text>
</g>
<path d="M344.6,86.5 L349.0,102.4 L344.6,99.80000000000001 L340.20000000000005,102.4 Z" fill="#000"/>
<line x1="344.6" y1="99.30000000000001" x2="344.6" y2="124.2" stroke="#000" stroke-width="1.7"/>
<path d="M429.3,124.9 L433.7,140.8 L429.3,138.20000000000002 L424.90000000000003,140.8 Z" fill="#000"/>
<line x1="429.3" y1="137.70000000000002" x2="429.3" y2="162.6" stroke="#000" stroke-width="1.7"/>
</svg>
</body></html>
